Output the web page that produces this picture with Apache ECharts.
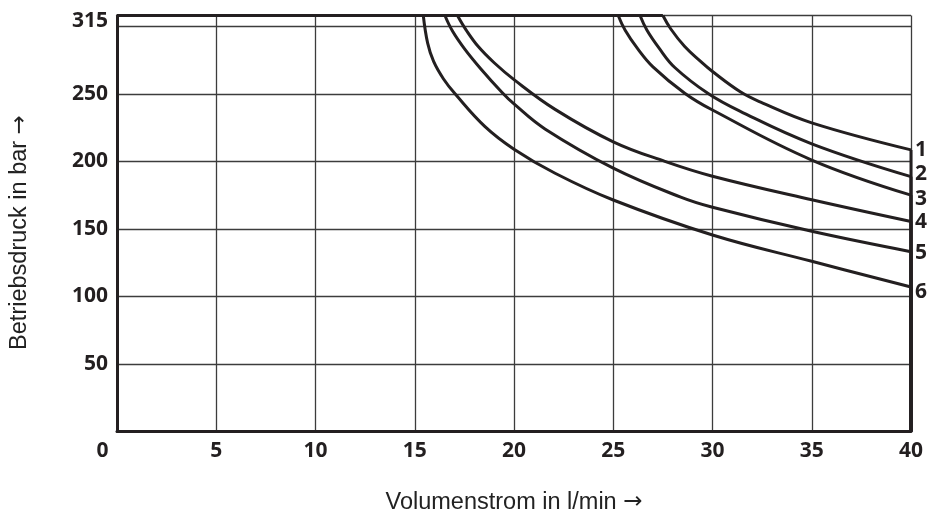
<!DOCTYPE html>
<html><head><meta charset="utf-8">
<script src="https://cdn.jsdelivr.net/npm/echarts@6/dist/echarts.min.js"></script>
<style>html,body{margin:0;padding:0;background:#fff}#c{width:931px;height:514px}</style>
</head><body><div id="c"></div>
<script>
// Axes
const xMin = 0, xMax = 40, xStep = 5;
const yMin = 0, yTop = 308, yStep = 50;   // top frame line as drawn (labelled 315)
const yTopLabel = '315';
const yHiddenLabels = [0, 300];
const xNameText = 'Volumenstrom in l/min';
const yNameText = 'Betriebsdruck in bar';
const arrow = '\u2192';

// Curves: [flow l/min, pressure bar], from the knee at the top line to x = 40
const curveNames = ['1', '2', '3', '4', '5', '6'];
const curve1 = [[27.5, 308], [27.9, 298], [28.6, 285], [29.4, 274], [30, 266.5], [31.4, 251.5], [32.4, 244], [35, 228.5], [40, 208.5]];
const curve2 = [[26.35, 308], [26.7, 297], [27.3, 284], [28.1, 269.5], [29.8, 250], [31.4, 237], [35, 213], [40, 188.7]];
const curve3 = [[25.25, 308], [25.6, 297], [26.2, 284], [27.0, 270], [28.6, 250.5], [30, 238], [35, 201], [40, 175]];
const curve4 = [[17.15, 308], [17.6, 297], [18.2, 285], [19.0, 273], [20, 260.5], [22.07, 238.5], [25, 214.5], [27.6, 200], [30, 189], [35, 171.6], [40, 155.5]];
const curve5 = [[16.52, 308], [16.9, 296.5], [17.5, 283.5], [18.3, 269], [19.4, 251], [20, 242.5], [21.56, 224], [25, 195], [28.4, 173.5], [30, 166], [35, 148.2], [40, 133.1]];
const curve6 = [[15.43, 308], [15.65, 287.5], [15.95, 274], [16.45, 261], [17.03, 250], [18.54, 225.7], [20, 209], [22.07, 191.2], [25, 171.4], [30, 145.5], [35, 126], [40, 107]];
const curves = [curve1, curve2, curve3, curve4, curve5, curve6];

// Styling
const ink = '#231f20';
const gridInk = '#3c3c3c';
const endLabelNudge = [0, -3, 4, 1, 1, 5];
const tickFont = { fontFamily: 'Open Sans', fontWeight: 700, fontSize: 21, color: ink };
const nameFont = { fontFamily: 'Liberation Sans', fontSize: 23.5, color: '#222' };
const nameRich = { t: { ...nameFont }, a: { ...nameFont, fontFamily: 'DejaVu Sans', fontSize: 23 } };

const series = [];
curves.forEach((pts, i) => {
  const knee = pts[0], end = pts[pts.length - 1];
  series.push({
    type: 'line', name: curveNames[i], data: pts, smooth: 0.4, showSymbol: false, silent: true,
    lineStyle: { color: ink, width: 3 }, z: 5,
    endLabel: { show: true, formatter: () => curveNames[i], distance: 4, offset: [0, endLabelNudge[i]], ...tickFont }
  });
  series.push({
    type: 'line', data: [[xMin, yTop], knee], showSymbol: false, silent: true, clip: false,
    lineStyle: { color: ink, width: 3 }, z: 5
  });
  series.push({
    type: 'line', data: [end, [xMax, yMin]], showSymbol: false, silent: true, clip: false,
    lineStyle: { color: ink, width: 3 }, z: 5
  });
});

const chart = echarts.init(document.getElementById('c'), null, { renderer: 'canvas' });
chart.setOption({
  animation: false,
  backgroundColor: '#fff',
  grid: { left: 117, right: 20, top: 15.5, bottom: 82.5, containLabel: false, outerBoundsMode: 'none' },
  xAxis: {
    type: 'value', min: xMin, max: xMax, interval: xStep,
    name: '{t|' + xNameText + ' }{a|' + arrow + '}', nameLocation: 'middle', nameGap: 59,
    nameTextStyle: { ...nameFont, rich: nameRich },
    axisLine: { show: true, onZero: false, lineStyle: { color: ink, width: 3 } },
    axisTick: { show: false },
    axisLabel: {
      margin: 9, ...tickFont,
      formatter: v => v === xMin ? '{o|' + v + '}' : String(v),
      rich: { o: { ...tickFont, padding: [0, 29, 0, 0] } }
    },
    splitLine: { show: true, lineStyle: { color: gridInk, width: 1.3 } }
  },
  yAxis: {
    type: 'value', min: yMin, max: yTop, interval: yStep,
    name: '{t|' + yNameText + ' }{a|' + arrow + '}', nameLocation: 'middle', nameGap: 85, nameRotate: 90,
    nameTextStyle: { ...nameFont, rich: nameRich, padding: [0, 18, 0, 0] },
    axisLine: { show: true, onZero: false, lineStyle: { color: ink, width: 3 } },
    axisTick: { show: false },
    axisLabel: {
      margin: 9, ...tickFont, showMaxLabel: true,
      formatter: v => v === yTop ? '{m|' + yTopLabel + '}' : (yHiddenLabels.includes(v) ? '' : String(v)),
      rich: { m: { ...tickFont, padding: [12, 0, 0, 0] } }
    },
    splitLine: { show: true, lineStyle: { color: gridInk, width: 1.3 } }
  },
  series
});
</script>
</body></html>
